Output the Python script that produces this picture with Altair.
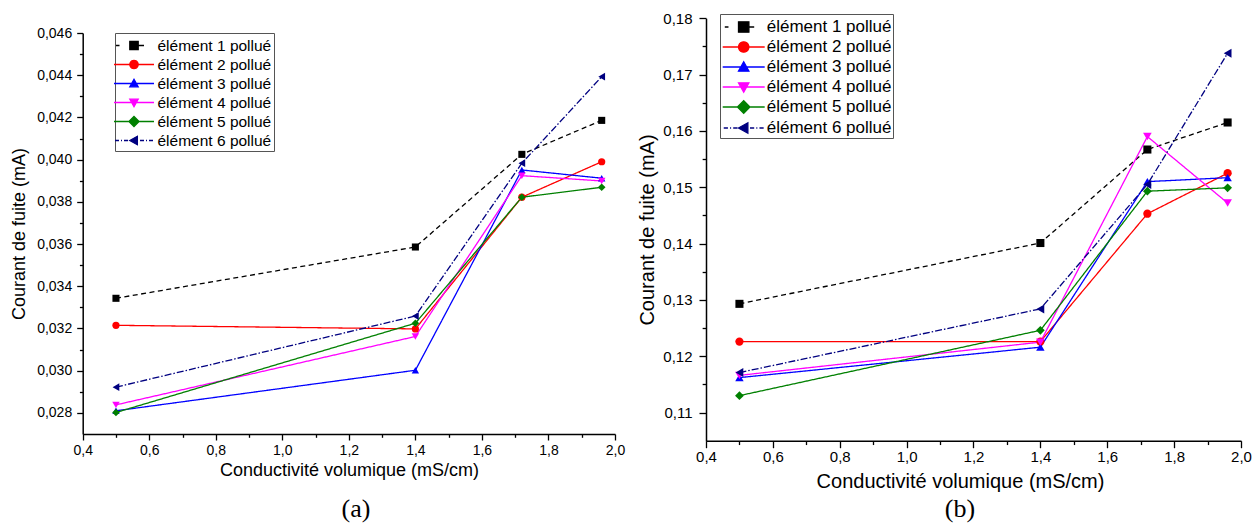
import math
import altair as alt
import pandas as pd

# ---------------- data ----------------
series = ["élément 1 pollué", "élément 2 pollué", "élément 3 pollué",
          "élément 4 pollué", "élément 5 pollué", "élément 6 pollué"]
x_vals = [0.5, 1.4, 1.72, 1.96]

a_e1 = [0.03343, 0.03586, 0.04025, 0.04186]
a_e2 = [0.03215, 0.03198, 0.03822, 0.03990]
a_e3 = [0.02810, 0.03002, 0.03951, 0.03912]
a_e4 = [0.02838, 0.03162, 0.03924, 0.03899]
a_e5 = [0.02802, 0.03225, 0.03822, 0.03869]
a_e6 = [0.02922, 0.03259, 0.03983, 0.04393]

b_e1 = [0.1293, 0.1401, 0.1567, 0.1615]
b_e2 = [0.1226, 0.1226, 0.1453, 0.1525]
b_e3 = [0.1162, 0.1216, 0.1510, 0.1517]
b_e4 = [0.1166, 0.1225, 0.1590, 0.1472]
b_e5 = [0.1130, 0.1246, 0.1493, 0.1499]
b_e6 = [0.1171, 0.1284, 0.1505, 0.1738]

x_ticks = [0.4, 0.5, 0.6, 0.7, 0.8, 0.9, 1.0, 1.1, 1.2, 1.3, 1.4, 1.5,
           1.6, 1.7, 1.8, 1.9, 2.0]
a_y_ticks = [0.028, 0.029, 0.030, 0.031, 0.032, 0.033, 0.034, 0.035, 0.036,
             0.037, 0.038, 0.039, 0.040, 0.041, 0.042, 0.043, 0.044, 0.045, 0.046]
b_y_ticks = [0.11, 0.115, 0.12, 0.125, 0.13, 0.135, 0.14, 0.145, 0.15,
             0.155, 0.16, 0.165, 0.17, 0.175, 0.18]

x_title = "Conductivité volumique (mS/cm)"
y_title = "Courant de fuite (mA)"
captions = ["(a)", "(b)"]

# ---------------- styles ----------------
colors = ["#000000", "#ff0000", "#0000ff", "#ff00ff", "#008000", "#000080"]
dashes = [[5, 3.5], [1, 0], [1, 0], [1, 0], [1, 0], [7, 2, 1.5, 2]]
shapes = ["square", "circle", "triangle-up", "triangle-down", "diamond", "triangle-left"]
FONT = "Liberation Sans"


def make_df(vals):
    rows = []
    for name, ys in zip(series, vals):
        for xv, yv in zip(x_vals, ys):
            rows.append({"x": xv, "y": yv, "series": name})
    return pd.DataFrame(rows)


def fmt(v):
    return f"{v:.3f}"


def marker_path(kind, m, s):
    def P(x, y):
        return f"{fmt(x / s)},{fmt(y / s)}"
    if kind == "square":
        return f"M{P(-m,-m)}L{P(m,-m)}L{P(m,m)}L{P(-m,m)}Z"
    if kind == "circle":
        pts = [P(m * math.cos(2 * math.pi * k / 20), m * math.sin(2 * math.pi * k / 20)) for k in range(20)]
        return "M" + "L".join(pts) + "Z"
    if kind == "triangle-up":
        return f"M{P(0,-m)}L{P(m,0.8*m)}L{P(-m,0.8*m)}Z"
    if kind == "triangle-down":
        return f"M{P(0,m)}L{P(m,-0.8*m)}L{P(-m,-0.8*m)}Z"
    if kind == "diamond":
        d = 1.2 * m
        return f"M{P(-d,0)}L{P(0,-d)}L{P(d,0)}L{P(0,d)}Z"
    # triangle-left
    return f"M{P(-m,0)}L{P(0.8*m,-m)}L{P(0.8*m,m)}Z"


def legend_paths(s, L, m):
    k = L / 20.0
    segs = [
        [(-18, -14.5), (4.5, 10)],
        [(-20, 20)], [(-20, 20)], [(-20, 20)], [(-20, 20)],
        [(-19, -15), (-13, -12), (-10, -6), (6, 10), (12, 13), (15, 19)],
    ]
    out = []
    for kind, sg in zip(shapes, segs):
        p = ""
        for a, b in sg:
            p += f"M{fmt(a * k / s)},0L{fmt(b * k / s)},0"
        p += marker_path(kind, m, s)
        out.append(p)
    return out


def tick_axis(orient, offset, values, major_test, num_fmt, lab_size, tick_len,
              title, title_size, title_pos, lab_pad, title_x=None):
    label_expr = (f"{major_test} ? replace(format(datum.value, '{num_fmt}'), '.', ',') : ''")
    kw = dict(
        orient=orient, offset=offset, values=values, labelExpr=label_expr,
        tickSize={"condition": {"test": f"!({major_test})", "value": tick_len * 0.55},
                  "value": tick_len},
        labelFontSize=lab_size, labelFont=FONT, labelColor="black",
        labelFlush=False, labelOverlap=False, labelPadding=lab_pad,
        domainColor="black", domainWidth=1.5, tickColor="black", tickWidth=1.3,
        grid=False, title=title, titleFont=FONT, titleFontSize=title_size,
        titleFontWeight="normal", titleColor="black",
    )
    if orient == "bottom":
        kw.update(titleY=title_pos, titleBaseline="alphabetic")
        if title_x is not None:
            kw.update(titleX=title_x)
    else:
        kw.update(titleX=title_pos, titleBaseline="middle")
    return alt.Axis(**kw)


def panel(df, xrange, ydomain, yrange, yvals, ymajor, yfmt, lab_size, tick_len,
          title_size, xtitle_y, xtitle_x, ytitle_x, lab_pad_x, lab_pad_y, sizes,
          leg_x, leg_y, leg_size, leg_half, leg_marker, leg_font,
          leg_pad, sym_off, lab_off):
    H = 525
    xaxis = tick_axis("bottom", -(H - xrange[2]), x_ticks,
                      "round(datum.value*10) % 2 == 0", ".1f", lab_size, tick_len,
                      x_title, title_size, xtitle_y, lab_pad_x, xtitle_x)
    yaxis = tick_axis("left", -xrange[0], yvals, ymajor, yfmt, lab_size, tick_len,
                      y_title, title_size, ytitle_x, lab_pad_y)
    xenc = alt.X("x:Q", scale=alt.Scale(domain=[0.4, 2.0], range=[xrange[0], xrange[1]],
                                        nice=False, zero=False), axis=xaxis)
    yenc = alt.Y("y:Q", scale=alt.Scale(domain=ydomain, range=yrange, nice=False, zero=False),
                 axis=yaxis)
    base = alt.Chart(df)
    lines = base.mark_line(strokeWidth=1.3).encode(
        x=xenc, y=yenc,
        color=alt.Color("series:N", scale=alt.Scale(domain=series, range=colors), legend=None),
        strokeDash=alt.StrokeDash("series:N", scale=alt.Scale(domain=series, range=dashes),
                                  legend=None),
    )
    pts = base.mark_point(filled=True, opacity=1).encode(
        x=xenc, y=yenc,
        color=alt.Color("series:N", scale=alt.Scale(domain=series, range=colors), legend=None),
        shape=alt.Shape("series:N", scale=alt.Scale(domain=series, range=shapes), legend=None),
        size=alt.Size("series:O", scale=alt.Scale(domain=series, range=sizes), legend=None),
    )
    s = math.sqrt(leg_size) / 2
    lpaths = legend_paths(s, leg_half, leg_marker)
    leg = alt.Legend(
        orient="none", legendX=leg_x, legendY=leg_y, title=None,
        symbolSize=leg_size, symbolStrokeWidth=1.3, symbolOffset=sym_off,
        labelOffset=lab_off, labelFont=FONT, labelFontSize=leg_font, labelColor="black",
        labelLimit=400, padding=leg_pad, rowPadding=0,
        strokeColor="#555555", fillColor="white",
    )
    legend_layer = base.mark_point(filled=True, opacity=1, strokeWidth=1.3).encode(
        fill=alt.Fill("series:N", scale=alt.Scale(domain=series, range=colors), legend=leg),
        stroke=alt.Stroke("series:N", scale=alt.Scale(domain=series, range=colors), legend=leg),
        shape=alt.Shape("series:N", scale=alt.Scale(domain=series, range=lpaths), legend=leg),
    ).transform_filter("false")
    return alt.layer(lines, pts, legend_layer).resolve_scale(
        color="independent", shape="independent", fill="independent",
        stroke="independent", size="independent", strokeDash="independent")


df_a = make_df([a_e1, a_e2, a_e3, a_e4, a_e5, a_e6])
df_b = make_df([b_e1, b_e2, b_e3, b_e4, b_e5, b_e6])

panel_a = panel(df_a, (82.7, 615, 434), [0.027, 0.046], [434, 33], a_y_ticks,
                "round(datum.value*1000) % 2 == 0", ".3f", 14, 6, 18, 41, 349, -62.7, 3, 5,
                [50, 60, 80, 80, 110, 80],
                115, 33, 361, 20, 4.2, 15.5, 2, 6.5, 13)
panel_b = panel(df_b, (706, 1241, 440.7), [0.105, 0.18], [440.7, 18.3], b_y_ticks,
                "round(datum.value*1000) % 10 == 0", ".2f", 15, 7, 20, 47, 960, -59, 2, 7,
                [65, 80, 100, 100, 135, 100],
                720, 14, 441, 21, 5.2, 17, 1.5, 10.7, 11.5)

cap_a = alt.Chart(pd.DataFrame({"t": [captions[0]]})).mark_text(
    font="Liberation Serif", fontSize=26, baseline="alphabetic", align="center", color="black"
).encode(text="t:N", x=alt.value(356), y=alt.value(517))
cap_b = alt.Chart(pd.DataFrame({"t": [captions[1]]})).mark_text(
    font="Liberation Serif", fontSize=26, baseline="alphabetic", align="center", color="black"
).encode(text="t:N", x=alt.value(960), y=alt.value(517))

chart = alt.layer(panel_a, panel_b, cap_a, cap_b).resolve_scale(
    x="independent", y="independent", color="independent", shape="independent",
    fill="independent", stroke="independent", size="independent", strokeDash="independent"
).properties(
    width=1255, height=525, padding=0, autosize=alt.AutoSizeParams(type="none"),
    background="white"
).configure_view(stroke=None)

chart.save("out.html", embed_options={"renderer": "svg", "actions": False})
